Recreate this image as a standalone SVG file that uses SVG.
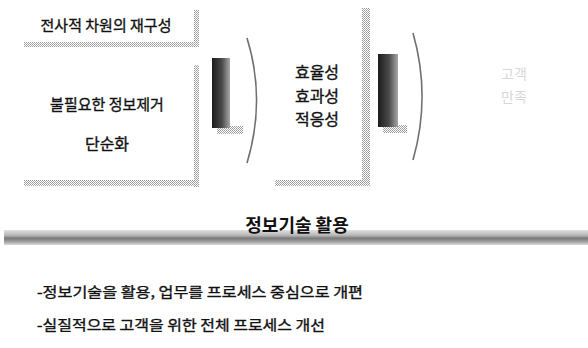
<svg xmlns="http://www.w3.org/2000/svg" width="588" height="348" viewBox="0 0 588 348">
<style>
text{font-family:"Noto Sans CJK KR","Noto Sans",sans-serif;fill:#111;}
.box,.mid,.bullet{stroke:#111;stroke-width:0.35;}
.box{font-size:15px;text-anchor:middle;}
.mid{font-size:16px;text-anchor:middle;}
.shadow{fill:url(#dither);}
.chev{fill:none;stroke:#707070;stroke-width:1.6;}
.bar{fill:url(#barGrad);}
.barsh{fill:url(#dither);}
.faint{font-size:14px;text-anchor:middle;fill:#d8d8d8;}
.bullet{font-size:14px;}
</style>
<defs>
<pattern id="dither" width="2" height="2" patternUnits="userSpaceOnUse">
<rect width="2" height="2" fill="#fff"/>
<rect width="1" height="1" fill="#999"/>
<rect x="1" y="1" width="1" height="1" fill="#aaa"/>
</pattern>
<linearGradient id="barGrad" x1="0" y1="0" x2="1" y2="0">
<stop offset="0" stop-color="#1c1c1c"/>
<stop offset="0.55" stop-color="#4a4a4a"/>
<stop offset="1" stop-color="#a8a8a8"/>
</linearGradient>
<linearGradient id="bandGrad" x1="0" y1="0" x2="0" y2="1">
<stop offset="0" stop-color="#e0e0e0"/>
<stop offset="0.35" stop-color="#b8b8b8"/>
<stop offset="0.55" stop-color="#7a7a7a"/>
<stop offset="0.75" stop-color="#9a9a9a"/>
<stop offset="1" stop-color="#dcdcdc"/>
</linearGradient>
</defs>
<rect width="588" height="348" fill="#fff"/>

<g id="box1">
<rect class="shadow" x="194" y="10" width="5" height="37"/>
<rect class="shadow" x="24" y="42" width="175" height="5"/>
<text class="box" x="106" y="31">전사적 차원의 재구성</text>
</g>

<g id="box2">
<rect class="shadow" x="194" y="65" width="5" height="122"/>
<rect class="shadow" x="24" y="180" width="175" height="6"/>
<text class="box" x="107" y="110">불필요한 정보제거</text>
<text class="box" x="107" y="150" style="font-size:16px">단순화</text>
</g>

<g id="box3">
<rect class="shadow" x="362" y="8" width="8" height="178"/>
<rect class="shadow" x="275" y="180" width="95" height="6"/>
<text class="mid" x="317" y="78">효율성</text>
<text class="mid" x="317" y="102">효과성</text>
<text class="mid" x="317" y="125">적응성</text>
</g>

<g id="result">
<text class="faint" x="514" y="79">고객</text>
<text class="faint" x="514" y="102">만족</text>
</g>

<g id="connectors">
<rect class="barsh" x="217" y="126" width="26" height="8"/>
<rect class="bar" x="212" y="58" width="18" height="70"/>
<path class="chev" d="M247,38 C260,80 260,120 247,163"/>
<rect class="barsh" x="383" y="125" width="24" height="8"/>
<rect class="bar" x="378" y="54" width="20" height="73"/>
<path class="chev" d="M413,33 C425,75 425,118 413,160"/>
</g>

<g id="it">
<rect x="4" y="230" width="584" height="15" fill="url(#bandGrad)"/>
<text x="297" y="232" style="font-size:18px;font-weight:bold;text-anchor:middle">정보기술 활용</text>
</g>

<g id="bullets">
<text class="bullet" x="37" y="297" textLength="326" lengthAdjust="spacingAndGlyphs">-정보기술을 활용, 업무를 프로세스 중심으로 개편</text>
<text class="bullet" x="37" y="330" textLength="288" lengthAdjust="spacingAndGlyphs">-실질적으로 고객을 위한 전체 프로세스 개선</text>
</g>
</svg>
